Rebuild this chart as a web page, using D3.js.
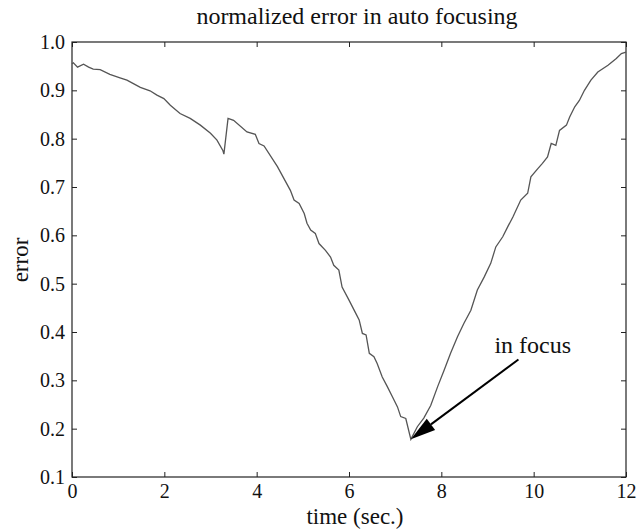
<html>
  <head>
    <style>
      body { margin: 0; background: #fff; }
      text { font-family: "Liberation Serif", "Times New Roman", serif; fill: #111; }
    </style>
  </head>
  <body>
    <svg id="chart" width="637" height="529"></svg>
    <script src="https://cdn.jsdelivr.net/npm/d3@7"></script>
    <script>
// values
var time = [0, 0.03, 0.12, 0.25, 0.36, 0.46, 0.61, 0.82, 1.04, 1.19, 1.33, 1.48, 1.69, 1.84, 1.99,
            2.13, 2.34, 2.56, 2.78, 3.0, 3.14, 3.27, 3.29, 3.38, 3.5, 3.79, 3.97, 4.05, 4.16, 4.45,
            4.73, 4.81, 4.92, 5.03, 5.09, 5.17, 5.27, 5.35, 5.49, 5.6, 5.67, 5.78, 5.85, 6.0, 6.15,
            6.22, 6.29, 6.37, 6.44, 6.54, 6.61, 6.72, 6.83, 6.94, 7.05, 7.12, 7.23, 7.34,
            7.48, 7.62, 7.77, 7.92, 8.06, 8.2, 8.35, 8.49, 8.64, 8.78, 8.93, 9.07, 9.18, 9.33, 9.44,
            9.55, 9.72, 9.87, 9.94, 10.09, 10.19, 10.3, 10.38, 10.48, 10.56, 10.71, 10.78, 10.89,
            10.99, 11.1, 11.24, 11.39, 11.61, 11.79, 11.9, 12.0];
var error = [0.955, 0.957, 0.948, 0.954, 0.948, 0.944, 0.943, 0.933, 0.926, 0.921, 0.914, 0.906, 0.899, 0.89, 0.883,
             0.869, 0.852, 0.842, 0.828, 0.811, 0.797, 0.775, 0.768, 0.842, 0.838, 0.814, 0.809, 0.79, 0.785, 0.742,
             0.693, 0.673, 0.666, 0.645, 0.625, 0.611, 0.604, 0.583, 0.569, 0.555, 0.538, 0.528, 0.493, 0.466, 0.438,
             0.425, 0.397, 0.394, 0.356, 0.349, 0.335, 0.307, 0.287, 0.266, 0.245, 0.225, 0.221, 0.178,
             0.204, 0.222, 0.248, 0.287, 0.321, 0.356, 0.39, 0.418, 0.445, 0.487, 0.514, 0.542, 0.576, 0.597, 0.618,
             0.638, 0.673, 0.687, 0.721, 0.738, 0.749, 0.762, 0.79, 0.786, 0.817, 0.828, 0.845, 0.866,
             0.879, 0.9, 0.921, 0.938, 0.952, 0.966, 0.976, 0.979];
var xTicks = [0, 2, 4, 6, 8, 10, 12];
var yTicks = [0.1, 0.2, 0.3, 0.4, 0.5, 0.6, 0.7, 0.8, 0.9, 1.0];
var arrowFrom = [9.67, 0.343];   // tail of the "in focus" arrow
var arrowTo = [7.34, 0.178];     // tip, at the minimum

var svg = d3.select("#chart");
var margin = {top: 42, right: 11, bottom: 52, left: 72};
var w = 637 - margin.left - margin.right,
    h = 529 - margin.top - margin.bottom;

var x = d3.scaleLinear().domain([0, 12]).range([0, w]);
var y = d3.scaleLinear().domain([0.1, 1.0]).range([h, 0]);

var g = svg.append("g").attr("transform", "translate(" + margin.left + "," + margin.top + ")");

// axes, ticks pointing inwards, mirrored on top and right
function styleAxis(sel) {
  sel.select(".domain").remove();
  sel.selectAll("line").attr("stroke", "#222").attr("stroke-width", 1);
  sel.selectAll("text").style("font-size", "20px").attr("fill", "#111");
}
g.append("g").attr("transform", "translate(0," + h + ")")
  .call(d3.axisBottom(x).tickValues(xTicks).tickFormat(d3.format("d")).tickSizeInner(-5).tickSizeOuter(0).tickPadding(7))
  .call(styleAxis);
g.append("g")
  .call(d3.axisLeft(y).tickValues(yTicks).tickFormat(d3.format(".1f")).tickSizeInner(-5).tickSizeOuter(0).tickPadding(7))
  .call(styleAxis);
g.append("g")
  .call(d3.axisTop(x).tickValues(xTicks).tickFormat("").tickSizeInner(-5).tickSizeOuter(0))
  .call(styleAxis);
g.append("g").attr("transform", "translate(" + w + ",0)")
  .call(d3.axisRight(y).tickValues(yTicks).tickFormat("").tickSizeInner(-5).tickSizeOuter(0))
  .call(styleAxis);

g.append("rect").attr("width", w).attr("height", h)
  .attr("fill", "none").attr("stroke", "#222").attr("stroke-width", 1.2);

// the error curve
var line = d3.line().x(function(d, i) { return x(time[i]); }).y(function(d) { return y(d); });
g.append("path").datum(error)
  .attr("d", line)
  .attr("fill", "none").attr("stroke", "#555").attr("stroke-width", 1.3);

// arrow
var ax0 = x(arrowFrom[0]), ay0 = y(arrowFrom[1]), ax1 = x(arrowTo[0]), ay1 = y(arrowTo[1]);
var ang = Math.atan2(ay1 - ay0, ax1 - ax0);
var headLen = 25, headW = 7;
var bx = ax1 - headLen * Math.cos(ang), by = ay1 - headLen * Math.sin(ang);
g.append("line").attr("x1", ax0).attr("y1", ay0).attr("x2", bx).attr("y2", by)
  .attr("stroke", "#000").attr("stroke-width", 2);
g.append("path")
  .attr("d", "M" + ax1 + "," + ay1 +
    "L" + (bx + headW * Math.sin(ang)) + "," + (by - headW * Math.cos(ang)) +
    "L" + (bx - headW * Math.sin(ang)) + "," + (by + headW * Math.cos(ang)) + "Z")
  .attr("fill", "#000");
g.append("text").attr("x", ax0 - 24).attr("y", ay0 - 7)
  .style("font-size", "24px").text("in focus");

// titles
svg.append("text").attr("x", 357).attr("y", 24).attr("text-anchor", "middle")
  .style("font-size", "24px").text("normalized error in auto focusing");
svg.append("text").attr("x", 355).attr("y", 524).attr("text-anchor", "middle")
  .style("font-size", "23px").text("time (sec.)");
svg.append("text").attr("transform", "translate(28,260) rotate(-90)").attr("text-anchor", "middle")
  .style("font-size", "23px").text("error");
    </script>
  </body>
</html>
